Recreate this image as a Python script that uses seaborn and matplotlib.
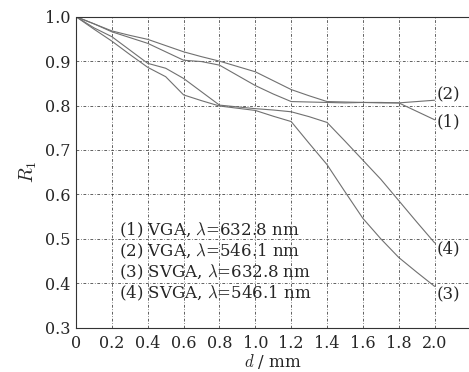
import matplotlib
matplotlib.use("Agg")
import matplotlib.pyplot as plt
import seaborn as sns
import pandas as pd

# distance d (mm)
d = [0.0, 0.1, 0.2, 0.3, 0.4, 0.5, 0.6, 0.7, 0.8, 0.9, 1.0,
     1.1, 1.2, 1.3, 1.4, 1.5, 1.6, 1.7, 1.8, 1.9, 2.0]

# R1
r_vga_633 = [1.0, 0.984, 0.968, 0.958, 0.949, 0.935, 0.921, 0.910, 0.900, 0.888, 0.876,
             0.856, 0.836, 0.822, 0.809, 0.808, 0.807, 0.807, 0.806, 0.787, 0.768]
r_vga_546 = [1.0, 0.984, 0.966, 0.953, 0.940, 0.921, 0.902, 0.899, 0.891, 0.868, 0.845,
             0.826, 0.809, 0.808, 0.807, 0.806, 0.807, 0.806, 0.806, 0.809, 0.812]
r_svga_633 = [1.0, 0.972, 0.945, 0.915, 0.886, 0.865, 0.824, 0.811, 0.799, 0.794, 0.789,
              0.776, 0.764, 0.715, 0.667, 0.606, 0.546, 0.500, 0.458, 0.425, 0.393]
r_svga_546 = [1.0, 0.975, 0.955, 0.925, 0.895, 0.884, 0.861, 0.831, 0.801, 0.797, 0.793,
              0.790, 0.786, 0.775, 0.762, 0.720, 0.677, 0.634, 0.586, 0.538, 0.491]

series = {"(1)": r_vga_633, "(2)": r_vga_546, "(3)": r_svga_633, "(4)": r_svga_546}
legend_lines = [r"(1) VGA, $\lambda$=632.8 nm",
                r"(2) VGA, $\lambda$=546.1 nm",
                r"(3) SVGA, $\lambda$=632.8 nm",
                r"(4) SVGA, $\lambda$=546.1 nm"]
end_labels = {"(1)": 0.764, "(2)": 0.824, "(3)": 0.373, "(4)": 0.478}

df = pd.DataFrame([(k, x, y) for k, vals in series.items() for x, y in zip(d, vals)],
                  columns=["curve", "d", "R1"])

sns.set_style("white")
plt.rcParams["font.family"] = ["DejaVu Serif"]
plt.rcParams["mathtext.fontset"] = "cm"

fig = plt.figure(figsize=(4.69, 3.72), dpi=100)
ax = fig.add_axes([76 / 469, 1 - 327.7 / 372, (470.5 - 76) / 469, (327.7 - 16.7) / 372])

sns.lineplot(data=df, x="d", y="R1", hue="curve", units="curve", estimator=None,
             palette=["#707070"] * 4, linewidth=0.8, legend=False, ax=ax)

ax.set_xlim(0, 2.2)
ax.set_ylim(0.3, 1.0)
ax.set_xticks([0, 0.2, 0.4, 0.6, 0.8, 1.0, 1.2, 1.4, 1.6, 1.8, 2.0])
ax.set_xticklabels(["0", "0.2", "0.4", "0.6", "0.8", "1.0", "1.2", "1.4", "1.6", "1.8", "2.0"])
ax.set_yticks([0.3, 0.4, 0.5, 0.6, 0.7, 0.8, 0.9, 1.0])
ax.set_yticklabels(["0.3", "0.4", "0.5", "0.6", "0.7", "0.8", "0.9", "1.0"])
ax.tick_params(axis="x", length=0, labelsize=11.5, pad=5)
ax.tick_params(axis="y", length=0, labelsize=11.5, pad=4)
ax.grid(True, color="#222222", linewidth=0.5, linestyle=(0, (4, 2.5, 1, 2.5)))
for s in ax.spines.values():
    s.set_color("#333333")
    s.set_linewidth(0.8)
    s.set_linestyle((0, (1, 1)))

ax.set_xlabel(r"$d$ / mm", fontsize=12, labelpad=0)
ax.set_ylabel(r"$R_1$", fontsize=14, labelpad=4)

for i, txt in enumerate(legend_lines):
    ax.text(0.24, 0.519 - 0.047 * i, txt, fontsize=12, va="center", ha="left")
for k, y in end_labels.items():
    ax.text(2.012, y, k, fontsize=12, va="center", ha="left")

fig.savefig("out.png", dpi=100)
